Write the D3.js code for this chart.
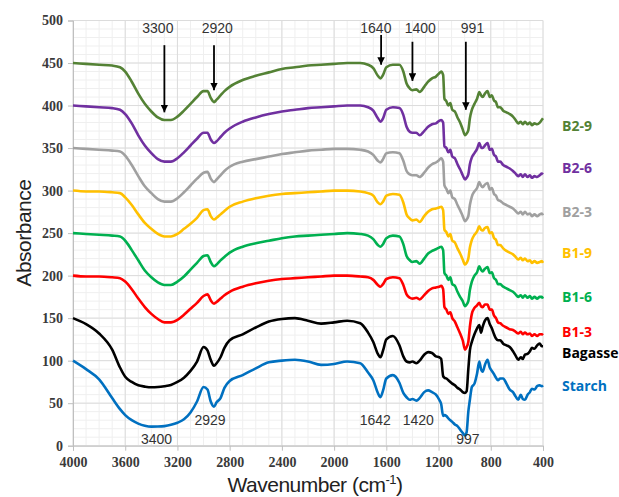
<!DOCTYPE html>
<html>
<head>
<meta charset="utf-8">
<script src="https://cdn.jsdelivr.net/npm/d3@7"></script>
<style>
  body { margin: 0; background: #fff; }
  svg { display: block; }
  .tick text { font-family: "Liberation Serif", "DejaVu Serif", serif; font-weight: bold; font-size: 14px; }
</style>
</head>
<body>
<script>
// wavenumber grid (cm-1), shared by all spectra
var wavenumbers = [4000,3900,3800,3700,3640,3600,3550,3500,3450,3400,
  3350,3300,3250,3200,3150,3100,3050,3000,2970,2945,
  2920,2900,2870,2840,2800,2700,2600,2500,2400,2300,
  2200,2100,2000,1900,1800,1740,1700,1665,1645,1625,
  1600,1550,1500,1470,1445,1420,1400,1370,1345,1310,
  1280,1250,1220,1195,1180,1165,1155,1140,1125,1110,
  1095,1075,1055,1035,1015,997,985,972,960,945,
  925,905,888,875,862,845,825,808,792,775,
  760,745,728,705,680,655,630,610,590,570,
  555,538,518,500,485,465,445,425,410,400];

var b29 = [450,449,448,447,445,440,428,414,402,393,
  386,383,383,387,394,402,410,417,417,409,
  404,407,412,417,422,430,435,439,443,445,
  447,448,449,450,450,448,444,435,432,436,
  445,448,448,440,426,420,418,419,416,422,
  428,432,434,438,440,436,408,405,400,403,
  395,393,386,380,372,365,367,371,385,395,
  402,408,416,412,410,414,417,410,412,406,
  404,398,398,394,392,390,387,383,379,381,
  378,381,378,380,377,379,378,380,383,385];

var b26 = [400,399,398,397,395,390,379,365,353,344,
  337,334,334,338,345,353,361,368,368,360,
  356,358,363,368,373,381,386,390,393,395,
  397,398,399,400,400,398,394,385,381,385,
  395,398,397,389,375,369,368,368,365,370,
  375,378,379,382,383,380,352,350,345,348,
  340,338,331,325,318,313,315,319,331,339,
  344,349,356,351,350,353,356,348,349,342,
  340,334,334,330,328,326,323,320,317,319,
  316,319,316,318,315,317,316,318,320,319];

var b23 = [350,349,348,347,346,341,330,317,305,297,
  290,287,287,291,298,306,314,321,322,314,
  310,313,318,323,328,334,337,340,343,345,
  347,348,349,349,348,346,342,335,333,337,
  344,345,344,335,323,319,318,318,316,321,
  327,331,333,336,338,334,306,302,297,300,
  292,290,283,277,270,264,266,270,283,293,
  299,303,310,306,304,307,309,301,303,296,
  294,289,288,285,283,281,279,276,273,275,
  272,275,272,273,270,272,270,272,273,271];

var b19 = [300,299,299,298,297,292,283,272,262,255,
  249,246,246,249,255,261,268,277,278,270,
  266,268,272,276,281,287,291,294,296,297,
  298,299,300,300,299,297,294,286,284,287,
  294,296,295,286,272,267,265,266,263,270,
  275,278,279,280,281,277,254,251,246,249,
  241,239,232,226,219,213,215,220,233,242,
  248,252,258,254,253,256,257,250,251,244,
  242,236,236,232,229,227,225,222,219,221,
  218,220,217,218,215,217,215,216,217,215];

var b16 = [250,249,248,247,246,241,230,218,206,198,
  192,189,189,193,199,207,215,223,224,216,
  211,213,218,222,227,234,238,241,244,246,
  247,248,249,250,249,247,243,236,234,237,
  244,247,246,237,223,218,216,217,214,220,
  226,229,231,233,234,230,203,200,195,198,
  190,188,181,175,170,164,166,170,183,193,
  200,204,211,207,205,208,210,203,204,197,
  195,190,190,187,185,183,181,178,175,177,
  174,177,174,176,173,175,173,175,175,173];

var b13 = [200,199,199,198,197,193,184,173,163,155,
  149,145,145,148,154,161,168,176,178,171,
  167,169,173,177,181,187,191,194,196,197,
  198,199,200,200,199,198,195,189,187,190,
  196,198,197,189,178,174,173,174,172,177,
  182,185,186,187,188,184,163,160,155,157,
  150,146,139,132,124,113,116,122,140,155,
  162,165,168,164,163,166,166,160,160,153,
  150,145,144,141,139,137,136,134,132,134,
  131,133,131,132,129,131,129,131,131,130];

var bagasse = [150,143,132,113,92,81,75,71,69.5,68.7,
  69,70,71.5,75,80,88,99,116,112,101,
  94,97,104,115,124,131,139,146,149,150,
  147,143.5,145,147,144,133,122,108,104,112,
  125,129,118,105,99,98,99,97,100,107,
  110,109,105,104,102,82,80,79,77,75,
  73,71,68,66,63,62,64,90,112,122,
  131,138,142,133,140,147,150,143,138,131,
  126,124,124,120,118,116,111,106,101,104,
  102,107,108,111,115,114,118,120,117,117];

var starch = [100,90,78,56,43,36,30,26,23.5,22.4,
  22.5,23,24.5,27,31,39,52,69,66,52,
  46,51,56,68,76,83,91,98,100,101,
  99,95,96,99,97,86,77,62,57,65,
  79,83,74,62,57,54,55,53,56,63,
  65,63,60,54,49,35,36,35,32,30,
  28,25,23,19,15,12,16,40,54,69,
  73,85,99,90,87,95,101,92,88,84,
  80,77,79,79,73,66,63,58,54,60,
  55,54,60,63,67,66,70,71,70,71];

var seriesNames  = ['B2-9','B2-6','B2-3','B1-9','B1-6','B1-3','Bagasse','Starch'];
var seriesValues = [b29, b26, b23, b19, b16, b13, bagasse, starch];

var xTicks = [4000,3600,3200,2800,2400,2000,1600,1200,800,400];
var yTicks = [0,50,100,150,200,250,300,350,400,450,500];

// peak annotations (wavenumber labels)
var topMarks    = ['3300','2920','1640','1400','991'];
var topMarkWn   = [3300, 2920, 1640, 1400, 991];
var bottomMarks = ['3400','2929','1642','1420','997'];

// ---- layout / style
var width  = 619;
var height = 497;
var margin = { top: 20.5, right: 76, bottom: 51.3, left: 73 };

var colors = ['#548235','#7030a0','#a0a0a0','#ffc000','#00b050','#ff0000','#000000','#0070c0'];
var labelAt = [376, 327, 275, 227, 175, 134, 109, 70];   // y (data units) of right-hand labels

var svg = d3.select('body')
  .append('svg')
    .attr('width', width)
    .attr('height', height);

var xScale = d3.scaleLinear()
    .domain([4000, 400])
    .range([margin.left, width - margin.right]);

var yScale = d3.scaleLinear()
    .domain([0, 500])
    .range([height - margin.bottom, margin.top]);

// grid: minor then major
var grid = svg.append('g').attr('class', 'grid');
grid.selectAll('.vminor')
  .data(d3.range(400, 4001, 100))
  .enter().append('line')
    .attr('x1', function (d) { return xScale(d); })
    .attr('x2', function (d) { return xScale(d); })
    .attr('y1', yScale(0)).attr('y2', yScale(500))
    .attr('stroke', '#efefef').attr('stroke-width', 1);
grid.selectAll('.hminor')
  .data(d3.range(0, 501, 10))
  .enter().append('line')
    .attr('x1', xScale(4000)).attr('x2', xScale(400))
    .attr('y1', function (d) { return yScale(d); })
    .attr('y2', function (d) { return yScale(d); })
    .attr('stroke', '#efefef').attr('stroke-width', 1);
grid.selectAll('.vmajor')
  .data(xTicks)
  .enter().append('line')
    .attr('x1', function (d) { return xScale(d); })
    .attr('x2', function (d) { return xScale(d); })
    .attr('y1', yScale(0)).attr('y2', yScale(500))
    .attr('stroke', '#dcdcdc').attr('stroke-width', 1);
grid.selectAll('.hmajor')
  .data(yTicks)
  .enter().append('line')
    .attr('x1', xScale(4000)).attr('x2', xScale(400))
    .attr('y1', function (d) { return yScale(d); })
    .attr('y2', function (d) { return yScale(d); })
    .attr('stroke', '#dcdcdc').attr('stroke-width', 1);

// axes
var xAxis = d3.axisBottom(xScale).tickValues(xTicks).tickFormat(d3.format('d')).tickSize(5).tickPadding(6);
var yAxis = d3.axisLeft(yScale).tickValues(yTicks).tickFormat(d3.format('d')).tickSize(5).tickPadding(5);

var gx = svg.append('g')
    .attr('transform', 'translate(0,' + yScale(0) + ')')
    .call(xAxis);
var gy = svg.append('g')
    .attr('transform', 'translate(' + xScale(4000) + ',0)')
    .call(yAxis);

[gx, gy].forEach(function (g) {
  g.attr('font-family', '"Liberation Serif", serif').attr('font-size', 14);
  g.select('.domain').attr('stroke', '#bfbfbf');
  g.selectAll('.tick line').attr('stroke', '#bfbfbf');
  g.selectAll('.tick text').attr('fill', '#3a3a3a');
});

// spectra
var line = d3.line()
    .x(function (d) { return xScale(d[0]); })
    .y(function (d) { return yScale(d[1]); })
    .curve(d3.curveMonotoneX);

seriesValues.forEach(function (vals, i) {
  var pts = wavenumbers.map(function (w, j) { return [w, vals[j]]; });
  svg.append('path')
    .attr('d', line(pts))
    .attr('fill', 'none')
    .attr('stroke', colors[i])
    .attr('stroke-width', 2.6)
    .attr('stroke-linejoin', 'round');

  svg.append('text')
    .attr('x', xScale(400) + 19)
    .attr('y', yScale(labelAt[i]))
    .attr('dy', '0.35em')
    .attr('fill', colors[i])
    .style('font-family', '"Open Sans", "Liberation Sans", sans-serif')
    .style('font-weight', 'bold')
    .style('font-size', '14px')
    .text(seriesNames[i]);
});

// arrows with labels at top
var arrowFrom = [471, 471, 483, 475, 475];
var arrowTip  = [392, 418, 448, 429, 395];
var labelX    = [3350, 2895, 1680, 1340, 940];

svg.append('defs').append('marker')
    .attr('id', 'head')
    .attr('viewBox', '0 0 10 10')
    .attr('refX', 10).attr('refY', 5)
    .attr('markerWidth', 4.2).attr('markerHeight', 4.2)
    .attr('orient', 'auto')
  .append('path')
    .attr('d', 'M0,0 L10,5 L0,10 Z')
    .attr('fill', '#000');

topMarks.forEach(function (t, i) {
  svg.append('line')
    .attr('x1', xScale(topMarkWn[i])).attr('x2', xScale(topMarkWn[i]))
    .attr('y1', yScale(arrowFrom[i])).attr('y2', yScale(arrowTip[i]))
    .attr('stroke', '#000')
    .attr('stroke-width', 1.8)
    .attr('marker-end', 'url(#head)');
  svg.append('text')
    .attr('x', xScale(labelX[i]))
    .attr('y', yScale(485))
    .attr('text-anchor', 'middle')
    .attr('fill', '#333')
    .style('font-family', '"Liberation Sans", Arial, sans-serif')
    .style('font-size', '14px')
    .text(t);
});

var bottomX = [3360, 2950, 1685, 1355, 975];
var bottomY = [2, 24, 24, 24, 2];
bottomMarks.forEach(function (t, i) {
  svg.append('text')
    .attr('x', xScale(bottomX[i]))
    .attr('y', yScale(bottomY[i]))
    .attr('text-anchor', 'middle')
    .attr('fill', '#333')
    .style('font-family', '"Liberation Sans", Arial, sans-serif')
    .style('font-size', '14px')
    .text(t);
});

// axis titles
svg.append('text')
    .attr('transform', 'translate(31,' + yScale(250) + ') rotate(-90)')
    .attr('text-anchor', 'middle')
    .attr('fill', '#222')
    .style('font-family', '"Liberation Sans", Arial, sans-serif')
    .style('font-size', '21px')
    .style('letter-spacing', '-0.5px')
    .text('Absorbance');

var xt = svg.append('text')
    .attr('x', 315)
    .attr('y', 492)
    .attr('text-anchor', 'middle')
    .attr('fill', '#222')
    .style('font-family', '"Liberation Sans", Arial, sans-serif')
    .style('font-size', '21px')
    .style('letter-spacing', '-0.5px');
xt.append('tspan').text('Wavenumber (cm');
xt.append('tspan').attr('dy', -8).style('font-size', '13px').text('-1');
xt.append('tspan').attr('dy', 8).text(')');
</script>
</body>
</html>
